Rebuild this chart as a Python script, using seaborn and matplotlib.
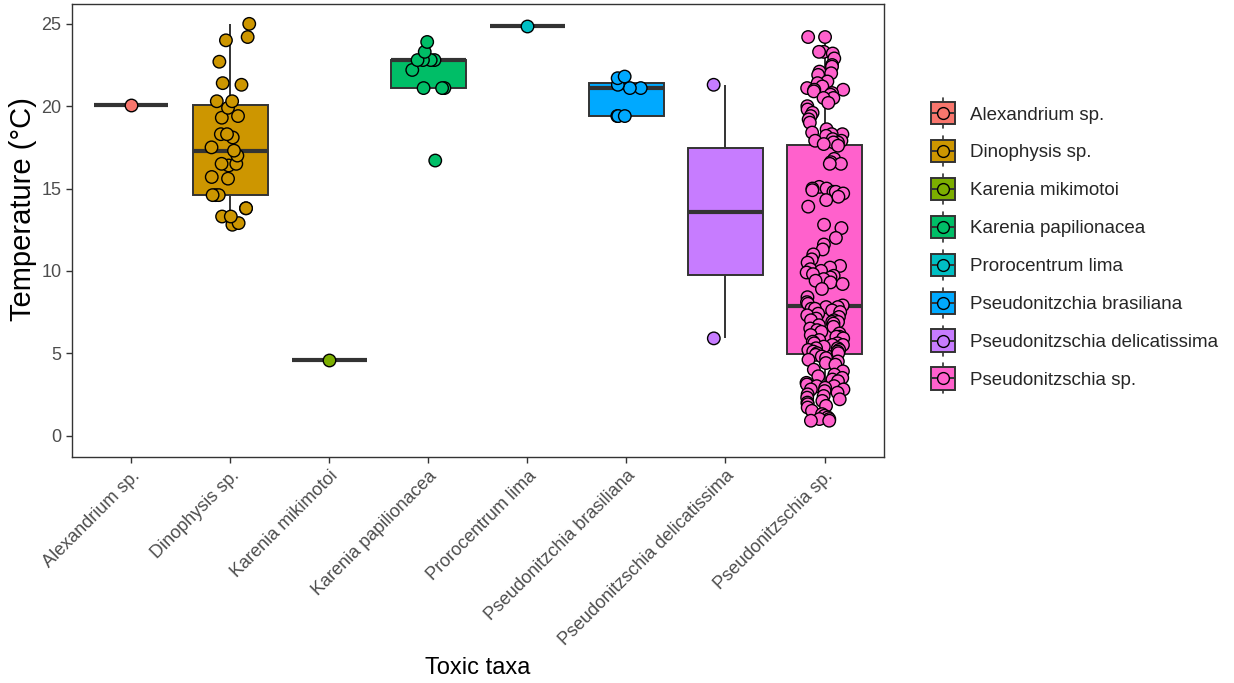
import numpy as np
import pandas as pd
import matplotlib
matplotlib.use("Agg")
import matplotlib.pyplot as plt
import seaborn as sns
from matplotlib.patches import Patch, Rectangle
from matplotlib.lines import Line2D
from matplotlib.legend_handler import HandlerBase

# Taxa (x categories) and ggplot default hue colours
taxa = ["Alexandrium sp.", "Dinophysis sp.", "Karenia mikimotoi", "Karenia papilionacea",
        "Prorocentrum lima", "Pseudonitzchia brasiliana", "Pseudonitzschia delicatissima",
        "Pseudonitzschia sp."]
colors = ["#F8766D", "#CD9600", "#7CAE00", "#00BE67", "#00BFC4", "#00A9FF", "#C77CFF", "#FF61CC"]

# Temperature readings (°C) for each taxon
alexandrium = [20.1]
dinophysis = [12.8, 12.9, 13.3, 13.3, 13.8, 13.8, 14.6, 14.6, 14.6, 15.6, 15.7, 16.4, 16.5, 16.5,
              17.0, 17.3, 17.5, 18.1, 18.3, 18.3, 19.3, 19.4, 19.9, 20.3, 20.3, 21.3, 21.4, 22.7,
              24.0, 24.2, 25.0]
karenia_mik = [4.6]
karenia_pap = [16.7, 21.1, 21.1, 21.1, 22.2, 22.8, 22.8, 22.8, 22.8, 23.3, 23.9]
prorocentrum = [24.9]
pn_brasiliana = [19.4, 19.4, 19.4, 21.1, 21.1, 21.3, 21.7, 21.8]
pn_delicatissima = [5.9, 21.3]
pn_sp = [24.2, 24.2, 23.3, 23.3, 23.2, 22.9, 22.5, 22.4, 22.1, 22.0, 21.9, 21.5, 21.4, 21.2, 21.1,
         21.0, 21.0, 20.9, 20.8, 20.7, 20.5, 20.5, 20.2, 20.0, 19.8, 19.6, 19.4, 19.2, 19.0, 18.6,
         18.4, 18.3, 18.3, 18.2, 18.0, 17.9, 17.9, 17.8, 17.8, 17.7,
         17.6, 16.8, 16.6, 16.5, 16.5, 15.1, 15.0, 15.0, 14.9, 14.8, 14.8, 14.7, 14.5, 14.3, 13.9,
         12.8, 12.6, 12.0, 11.6, 11.3, 11.0, 10.7, 10.5, 10.3, 10.2, 10.1, 10.0, 9.9, 9.8, 9.7,
         9.6, 9.5, 9.4, 9.3, 9.2, 8.9, 8.4, 8.1, 8.0, 7.9,
         7.8, 7.8, 7.7, 7.7, 7.6, 7.5, 7.4, 7.3, 7.2, 7.1, 7.0, 7.0, 6.9, 6.9, 6.8, 6.7, 6.6, 6.5,
         6.4, 6.3, 6.2, 6.1, 6.0, 6.0, 5.9, 5.8, 5.7, 5.6, 5.6, 5.5, 5.5, 5.4, 5.3, 5.3, 5.2, 5.2,
         5.1, 5.1, 5.0, 5.0,
         4.9, 4.8, 4.7, 4.6, 4.5, 4.4, 4.3, 4.0, 3.9, 3.7, 3.6, 3.5, 3.4, 3.3, 3.2, 3.1, 3.0, 3.0,
         2.9, 2.8, 2.8, 2.7, 2.6, 2.5, 2.4, 2.3, 2.2, 2.1, 2.0, 1.9, 1.8, 1.7, 1.5, 1.3, 1.2, 1.1,
         1.0, 1.0, 0.9, 0.9]

values = [alexandrium, dinophysis, karenia_mik, karenia_pap, prorocentrum,
          pn_brasiliana, pn_delicatissima, pn_sp]

# long-form table for seaborn
df = pd.DataFrame({
    "taxa": [t for t, v in zip(taxa, values) for _ in v],
    "temp": [x for v in values for x in v],
})
palette = dict(zip(taxa, colors))
edge = "#333333"


# ggplot-like legend key: whisker, box, median and a point on top
class BoxPointKey(HandlerBase):
    def create_artists(self, legend, orig_handle, xdescent, ydescent, width, height, fontsize, trans):
        c = orig_handle.get_facecolor()
        cx = -xdescent + width / 2
        cy = -ydescent + height / 2
        bw, bh = 17, 16
        whisker = Line2D([cx, cx], [cy - height / 2 - 3, cy + height / 2 + 3], color=edge, lw=1.2)
        box = Rectangle((cx - bw / 2, cy - bh / 2), bw, bh, facecolor=c, edgecolor=edge, lw=1.4)
        med = Line2D([cx - bw / 2, cx + bw / 2], [cy, cy], color=edge, lw=1.4)
        pt = Line2D([cx], [cy], marker="o", markersize=8.5, markerfacecolor=c,
                    markeredgecolor="black", markeredgewidth=1, linestyle="none")
        arts = [whisker, box, med, pt]
        for a in arts:
            a.set_transform(trans)
        return arts


sns.set_style("white")
plt.rcParams["font.family"] = ["Liberation Sans", "DejaVu Sans"]

fig = plt.figure(figsize=(12.34, 6.83), dpi=100)
ax = fig.add_axes([0.0583, 0.331, 0.658, 0.663])

sns.boxplot(data=df, x="taxa", y="temp", hue="taxa", order=taxa, hue_order=taxa,
            palette=palette, width=0.75, showfliers=False, showcaps=False, whis=1.5,
            linewidth=1.4, linecolor=edge, saturation=1, legend=False,
            medianprops={"linewidth": 3, "color": edge}, ax=ax)

np.random.seed(3)
sns.stripplot(data=df, x="taxa", y="temp", hue="taxa", order=taxa, hue_order=taxa,
              palette=palette, jitter=0.2, size=9, edgecolor="black", linewidth=1,
              legend=False, ax=ax, zorder=5)

ax.set_xlim(-0.6, 7.6)
ax.set_ylim(-1.3, 26.2)
ax.set_yticks([0, 5, 10, 15, 20, 25])
ax.set_xlabel("Toxic taxa", fontsize=17, color="black", labelpad=6)
ax.set_ylabel("Temperature (°C)", fontsize=21, color="black")
ax.yaxis.set_label_coords(-0.043, 0.547)
ax.tick_params(axis="both", which="both", length=4, width=1, color=edge,
               labelsize=13, labelcolor="#4D4D4D", left=True, bottom=True)
plt.setp(ax.get_xticklabels(), rotation=45, ha="right", va="top", rotation_mode="anchor")
for s in ax.spines.values():
    s.set_color(edge)
    s.set_linewidth(1)

handles = [Patch(facecolor=c) for c in colors]
fig.legend(handles, taxa, handler_map={Patch: BoxPointKey()},
           loc="center left", bbox_to_anchor=(0.742, 0.64), frameon=False,
           fontsize=13.5, handlelength=1.1, handleheight=1.4, labelspacing=0.865,
           handletextpad=0.9)

fig.savefig("out.png", dpi=100)
